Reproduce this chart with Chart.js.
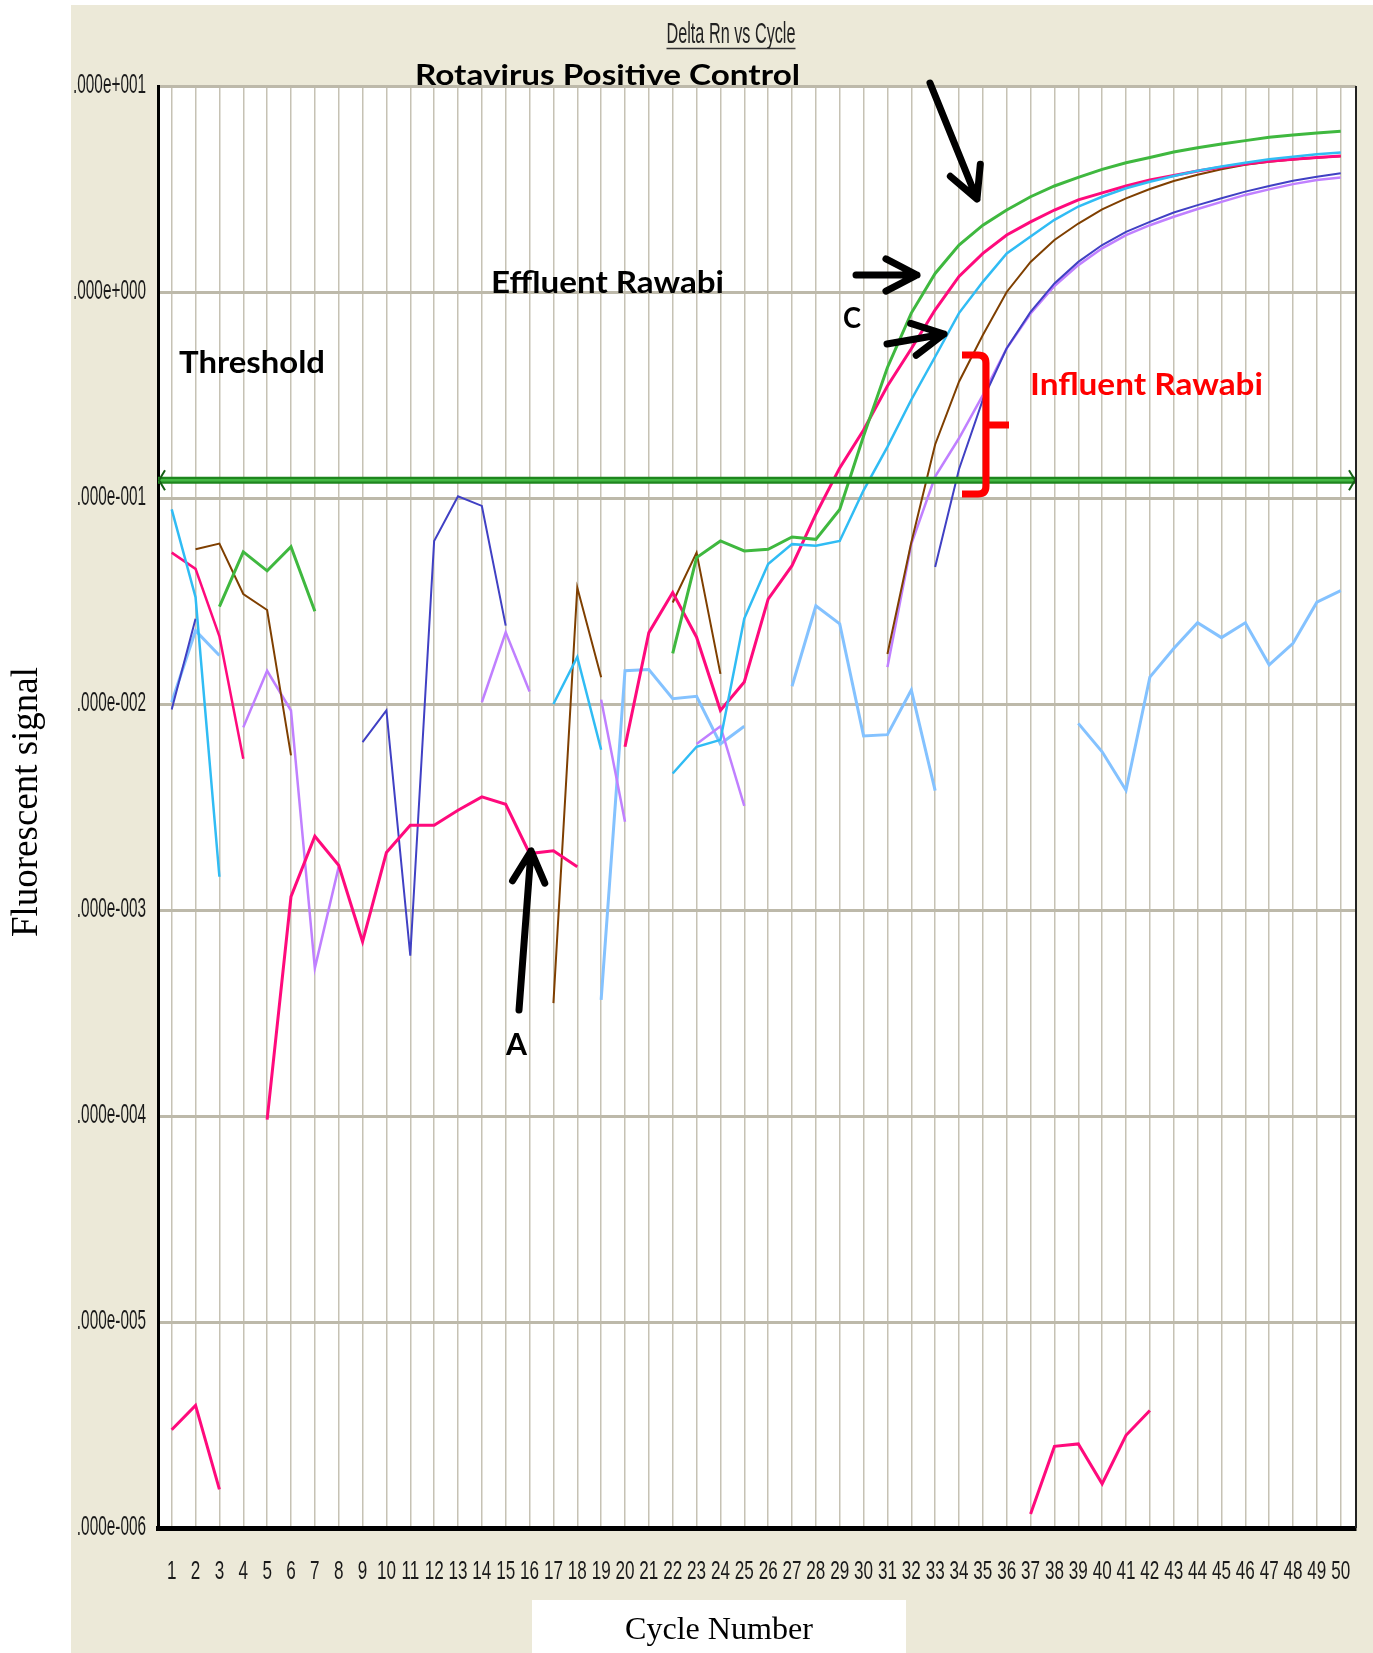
<!DOCTYPE html>
<html>
<head>
<meta charset="utf-8">
<title>Delta Rn vs Cycle</title>
<script src="https://cdn.jsdelivr.net/npm/chart.js@4.4.1/dist/chart.umd.min.js"></script>
<style>
  html, body { margin: 0; padding: 0; background: #fff; }
  canvas { display: block; }
</style>
</head>
<body>
<canvas id="deltaRn" width="1373" height="1653"></canvas>
<script>
// cycle numbers on the x axis
const cycles = [
  1, 2, 3, 4, 5, 6, 7, 8, 9, 10, 11, 12, 13, 14, 15, 16, 17, 18, 19, 20, 21, 22, 23, 24, 25,
  26, 27, 28, 29, 30, 31, 32, 33, 34, 35, 36, 37, 38, 39, 40, 41, 42, 43, 44, 45, 46, 47, 48, 49, 50
];

// log axis decades and the (clipped) labels as they appear in the picture
const yTicks = [10, 1, 0.1, 0.01, 0.001, 0.0001, 0.00001, 0.000001];
const yTickLabels = ['.000e+001', '.000e+000', '.000e-001', '.000e-002', '.000e-003', '.000e-004', '.000e-005', '.000e-006'];

const threshold = 0.122;

// Delta Rn per cycle, one row = 10 cycles, null = not plotted (value <= 0)
const green = [
  null, null, 0.0297, 0.0548, 0.0443, 0.058, 0.0282, null, null, null,
  null, null, null, null, null, null, null, null, null, null,
  null, 0.0176, 0.0514, 0.0619, 0.0553, 0.0564, 0.0647, 0.063, 0.088, 0.20,
  0.43, 0.79, 1.23, 1.69, 2.11, 2.50, 2.90, 3.27, 3.60, 3.94,
  4.24, 4.50, 4.78, 5.02, 5.23, 5.43, 5.64, 5.78, 5.91, 6.03
];
const cyan = [
  0.088, 0.033, 0.00145, null, null, null, null, null, null, null,
  null, null, null, null, null, null, 0.010, 0.0169, 0.0060, null,
  null, 0.0046, 0.0062, 0.0067, 0.026, 0.0478, 0.0597, 0.0587, 0.0619, 0.109,
  0.177, 0.30, 0.485, 0.79, 1.12, 1.54, 1.86, 2.24, 2.60, 2.90,
  3.19, 3.43, 3.66, 3.88, 4.07, 4.24, 4.41, 4.54, 4.66, 4.75
];
const pinkRise = [
  null, null, null, null, 0.000096, 0.00116, 0.00228, 0.00165, 0.000703, 0.0019,
  0.00258, 0.00258, 0.00305, 0.00354, 0.00326, 0.00188, 0.00194, 0.00162, null, 0.0062,
  0.0222, 0.0348, 0.0211, 0.0093, 0.0128, 0.0323, 0.0469, 0.0834, 0.14, 0.214,
  0.35, 0.53, 0.82, 1.19, 1.54, 1.89, 2.19, 2.50, 2.80, 3.03,
  3.27, 3.50, 3.68, 3.87, 4.03, 4.18, 4.31, 4.41, 4.50, 4.57
];
const pinkEarly = [
  0.0543, 0.0453, 0.0213, 0.00542, null, null, null, null, null, null,
  null, null, null, null, null, null, null, null, null, null,
  null, null, null, null, null, null, null, null, null, null,
  null, null, null, null, null, null, null, null, null, null,
  null, null, null, null, null, null, null, null, null, null
];
const pinkLow = [
  3.0e-6, 3.94e-6, 1.54e-6, null, null, null, null, null, null, null,
  null, null, null, null, null, null, null, null, null, null,
  null, null, null, null, null, null, null, null, null, null,
  null, null, null, null, null, null, 1.17e-6, 2.49e-6, 2.56e-6, 1.64e-6,
  2.82e-6, 3.72e-6, null, null, null, null, null, null, null, null
];
const brown = [
  null, 0.0564, 0.0601, 0.0342, 0.0286, 0.00563, null, null, null, null,
  null, null, null, null, null, null, 0.000353, 0.0368, 0.0135, null,
  null, 0.0311, 0.0543, 0.014, null, null, null, null, null, null,
  0.0175, 0.0608, 0.182, 0.367, 0.618, 1.0, 1.40, 1.79, 2.15, 2.52,
  2.85, 3.16, 3.46, 3.71, 3.94, 4.15, 4.29, 4.40, 4.49, 4.56
];
const indigo = [
  0.0094, 0.0259, null, null, null, null, null, null, 0.00653, 0.0093,
  0.0006, 0.0619, 0.102, 0.0915, 0.024, null, null, null, null, null,
  null, null, null, null, null, null, null, null, null, null,
  null, null, 0.0463, 0.138, 0.30, 0.533, 0.80, 1.10, 1.40, 1.69,
  1.96, 2.19, 2.43, 2.64, 2.85, 3.07, 3.27, 3.47, 3.63, 3.77
];
const lavender = [
  null, null, null, 0.0077, 0.0145, 0.0093, 0.000522, 0.00162, null, null,
  null, null, null, 0.0102, 0.0223, 0.0115, null, null, 0.0105, 0.00268,
  null, null, 0.0064, 0.0078, 0.0032, null, null, null, null, null,
  0.0151, 0.0597, 0.127, 0.195, 0.316, 0.533, 0.787, 1.07, 1.35, 1.63,
  1.89, 2.11, 2.32, 2.53, 2.74, 2.96, 3.15, 3.34, 3.50, 3.60
];
const lightBlue = [
  0.0102, 0.0227, 0.0172, null, null, null, null, null, null, null,
  null, null, null, null, null, null, null, null, 0.000366, 0.0145,
  0.0147, 0.0106, 0.0109, 0.0064, 0.0078, null, 0.0122, 0.030, 0.0245, 0.0070,
  0.0071, 0.0117, 0.0038, null, null, null, null, null, 0.00805, 0.00586,
  0.00381, 0.0135, 0.0186, 0.0248, 0.021, 0.0248, 0.0155, 0.0197, 0.0312, 0.0355
];

const NARROW = '"Liberation Sans", Arial, sans-serif';
const SERIF = '"Liberation Serif", "Times New Roman", serif';
const BOLD = '"Lato", "Open Sans", sans-serif';

function series(values, color, width) {
  return {
    data: cycles.map((c, i) => ({ x: c, y: values[i] })),
    borderColor: color,
    borderWidth: width,
    pointRadius: 0,
    tension: 0,
    fill: false
  };
}

// text squeezed/stretched horizontally to a measured width
function fitText(ctx, text, x, y, font, width, opts = {}) {
  ctx.save();
  ctx.font = font;
  ctx.fillStyle = opts.color || '#000';
  const sx = width ? width / ctx.measureText(text).width : 1;
  ctx.translate(x, y);
  if (opts.rotate) ctx.rotate(opts.rotate);
  ctx.scale(sx, 1);
  ctx.textAlign = opts.align || 'left';
  ctx.textBaseline = opts.baseline || 'alphabetic';
  ctx.fillText(text, 0, 0);
  ctx.restore();
}

function arrow(ctx, x1, y1, x2, y2) {
  const a = Math.atan2(y2 - y1, x2 - x1), len = 35, spread = 0.48;
  ctx.beginPath();
  ctx.moveTo(x1, y1);
  ctx.lineTo(x2, y2);
  ctx.moveTo(x2 - len * Math.cos(a - spread), y2 - len * Math.sin(a - spread));
  ctx.lineTo(x2, y2);
  ctx.lineTo(x2 - len * Math.cos(a + spread), y2 - len * Math.sin(a + spread));
  ctx.stroke();
}

const decor = {
  id: 'decor',
  beforeDraw(chart) {
    const { ctx, chartArea: a } = chart;
    ctx.save();
    ctx.fillStyle = '#ffffff';
    ctx.fillRect(0, 0, chart.width, chart.height);
    ctx.fillStyle = '#ece9d8';
    ctx.fillRect(71, 5, chart.width - 71, chart.height - 5);
    ctx.fillStyle = '#ffffff';
    ctx.fillRect(a.left, a.top, a.right - a.left, a.bottom - a.top);
    ctx.fillRect(532, 1600, 374, 53);
    ctx.restore();
  },
  afterDatasetsDraw(chart) {
    const { ctx, chartArea: a } = chart;
    const ty = chart.scales.y.getPixelForValue(threshold);
    ctx.save();
    ctx.lineCap = 'butt';
    ctx.strokeStyle = '#1e861e';
    ctx.lineWidth = 7;
    ctx.beginPath();
    ctx.moveTo(a.left, ty);
    ctx.lineTo(a.right, ty);
    ctx.stroke();
    ctx.strokeStyle = '#44b844';
    ctx.lineWidth = 2.5;
    ctx.stroke();
    // small end arrows
    ctx.strokeStyle = '#145f14';
    ctx.lineWidth = 2;
    ctx.beginPath();
    ctx.moveTo(a.left + 7, ty - 10);
    ctx.lineTo(a.left + 1, ty);
    ctx.lineTo(a.left + 7, ty + 10);
    ctx.moveTo(a.right - 7, ty - 10);
    ctx.lineTo(a.right - 1, ty);
    ctx.lineTo(a.right - 7, ty + 10);
    ctx.stroke();
    ctx.restore();
  },
  afterDraw(chart) {
    const { ctx, chartArea: a } = chart;
    const xs = chart.scales.x, ys = chart.scales.y;
    ctx.save();

    // right frame line
    ctx.strokeStyle = '#222';
    ctx.lineWidth = 2;
    ctx.beginPath();
    ctx.moveTo(a.right, a.top);
    ctx.lineTo(a.right, a.bottom);
    ctx.stroke();

    // tick labels (very condensed font in the original)
    ctx.font = '27px ' + NARROW;
    const sy = 73 / ctx.measureText(yTickLabels[0]).width;
    ys.ticks.forEach(t => {
      const i = yTicks.indexOf(t.value);
      ctx.save();
      ctx.translate(146, ys.getPixelForValue(t.value));
      ctx.scale(sy, 1);
      ctx.fillStyle = '#1a1a1a';
      ctx.textAlign = 'right';
      ctx.textBaseline = 'middle';
      ctx.fillText(yTickLabels[i], 0, 0);
      ctx.restore();
    });
    ctx.font = '25px ' + NARROW;
    const sx = 19 / ctx.measureText('10').width;
    xs.ticks.forEach(t => {
      ctx.save();
      ctx.translate(xs.getPixelForValue(t.value), 1572);
      ctx.scale(sx, 1);
      ctx.fillStyle = '#1a1a1a';
      ctx.textAlign = 'center';
      ctx.textBaseline = 'middle';
      ctx.fillText(String(t.value), 0, 0);
      ctx.restore();
    });

    // header
    fitText(ctx, 'Delta Rn vs Cycle', 731, 43, '30px ' + NARROW, 129, { align: 'center', color: '#222' });
    ctx.strokeStyle = '#333';
    ctx.lineWidth = 1.5;
    ctx.beginPath();
    ctx.moveTo(666.5, 48.5);
    ctx.lineTo(795.5, 48.5);
    ctx.stroke();

    // axis titles
    fitText(ctx, 'Fluorescent signal', 37, 802, '37px ' + SERIF, 270, { align: 'center', rotate: -Math.PI / 2 });
    fitText(ctx, 'Cycle Number', 719, 1639, '31px ' + SERIF, 188, { align: 'center' });

    // annotations
    fitText(ctx, 'Rotavirus Positive Control', 415, 85, 'bold 28px ' + BOLD, 385);
    fitText(ctx, 'Effluent Rawabi', 491, 293, 'bold 30px ' + BOLD, 233);
    fitText(ctx, 'Threshold', 179, 373, 'bold 30px ' + BOLD, 146);
    fitText(ctx, 'Influent Rawabi', 1030, 395, 'bold 30px ' + BOLD, 233, { color: '#ff0000' });
    fitText(ctx, 'C', 843, 328, 'bold 28px ' + BOLD, 18);
    fitText(ctx, 'A', 506, 1055, 'bold 30px ' + BOLD, 21);

    ctx.strokeStyle = '#000';
    ctx.lineWidth = 7;
    ctx.lineCap = 'round';
    ctx.lineJoin = 'round';
    arrow(ctx, 930, 83, 977, 199);
    arrow(ctx, 856, 275, 917, 275);
    arrow(ctx, 887, 344, 944, 334);
    arrow(ctx, 519, 1010, 531, 851);

    // red brace for the influent curves
    ctx.strokeStyle = '#ff0000';
    ctx.lineWidth = 7;
    ctx.lineCap = 'butt';
    ctx.beginPath();
    ctx.moveTo(962, 355);
    ctx.lineTo(978, 355);
    ctx.quadraticCurveTo(986, 355, 986, 363);
    ctx.lineTo(986, 486);
    ctx.quadraticCurveTo(986, 494, 978, 494);
    ctx.lineTo(962, 494);
    ctx.moveTo(986, 425);
    ctx.lineTo(1009, 425);
    ctx.stroke();

    ctx.restore();
  }
};

new Chart(document.getElementById('deltaRn'), {
  type: 'line',
  data: {
    datasets: [
      series(green, '#3fb83f', 3),
      series(cyan, '#30bcf4', 2.5),
      series(pinkRise, '#ff0a7c', 3),
      series(pinkEarly, '#ff0a7c', 2.5),
      series(pinkLow, '#ff0a7c', 3),
      series(brown, '#7f3f00', 2),
      series(indigo, '#4040c4', 2),
      series(lavender, '#c080ff', 2.5),
      series(lightBlue, '#84c2ff', 3)
    ]
  },
  options: {
    responsive: false,
    animation: false,
    events: [],
    layout: { padding: { top: 86, right: 17, left: 0, bottom: 0 } },
    plugins: { legend: { display: false }, tooltip: { enabled: false } },
    scales: {
      x: {
        type: 'linear',
        min: 0.426,
        max: 50.64,
        afterBuildTicks: s => { s.ticks = cycles.map(v => ({ value: v })); },
        afterFit: s => { s.height = 125; },
        grid: { color: '#c6c2b4', lineWidth: 1.5, drawTicks: false },
        border: { color: '#000', width: 5 },
        ticks: { display: false }
      },
      y: {
        type: 'logarithmic',
        min: 0.000001,
        max: 10,
        afterBuildTicks: s => { s.ticks = yTicks.map(v => ({ value: v })); },
        afterFit: s => { s.width = 158; },
        grid: { color: '#bdb9aa', lineWidth: 3, drawTicks: false },
        border: { color: '#000', width: 3 },
        ticks: { display: false }
      }
    }
  },
  plugins: [decor]
});
</script>
</body>
</html>
